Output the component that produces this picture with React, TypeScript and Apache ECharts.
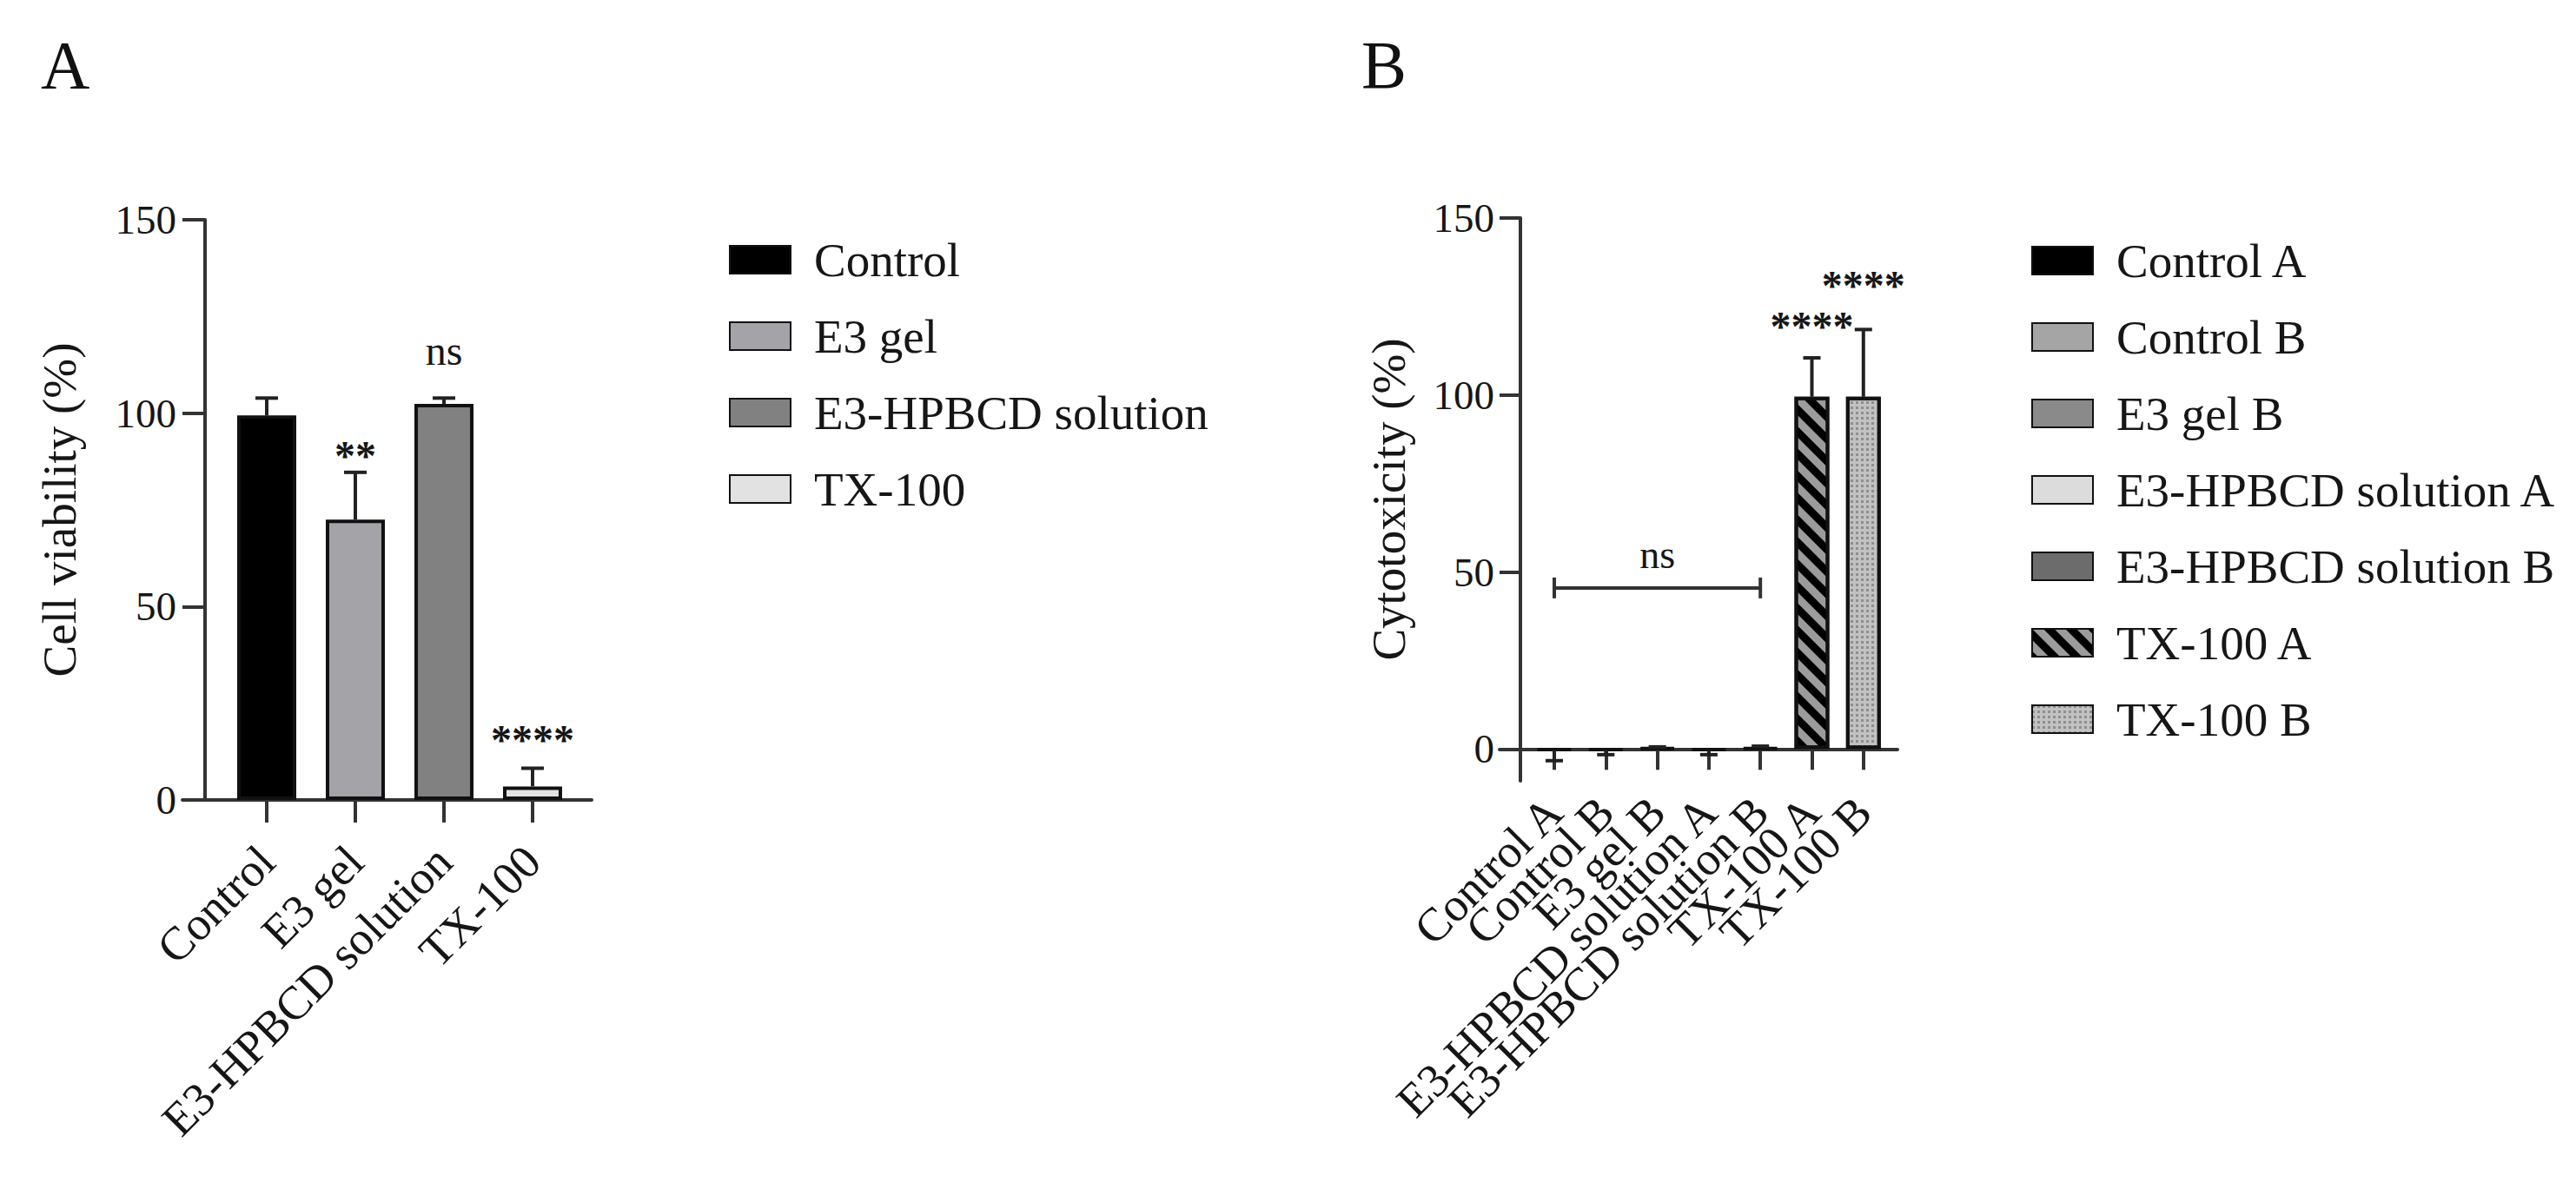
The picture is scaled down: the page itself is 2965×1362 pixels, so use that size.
import React, { useEffect, useRef } from "react";
import * as echarts from "echarts";

const FONT = '"Liberation Serif", "Times New Roman", Times, serif';
const AXIS_COLOR = "#333333";
const TEXT_COLOR = "#161616";

// ---------- Panel A data ----------
const catsA = ["Control", "E3 gel", "E3-HPBCD solution", "TX-100"];
const meanA = [99.4, 72.5, 102.4, 3.5];
const errA = [4.5, 12.2, 1.5, 4.7];
const colorsA = ["#000000", "#a3a3a8", "#818181", "#e2e2e2"];
const sigTextA = ["**", "ns", "****"];
const sigBoldA = [true, false, true];
const sigPosA = [
  [1, 89],
  [2, 116.3],
  [3, 15.5],
];
const yTicksA = [0, 50, 100, 150];

// ---------- Panel B data ----------
const catsB = [
  "Control A",
  "Control B",
  "E3 gel B",
  "E3-HPBCD solution A",
  "E3-HPBCD solution B",
  "TX-100 A",
  "TX-100 B",
];
const meanB = [-0.3, -0.3, 0.3, -0.3, 0.3, 99.5, 99.5];
const errB = [3.0, 1.3, 0.3, 1.3, 0.5, 11, 19];
const colorsB = ["#000000", "#a5a5a5", "#8a8a8a", "#dcdcdc", "#6c6c6c", "#9c9c9c", "#c2c2c2"];
const sigTextB = ["****", "****"];
const sigBoldB = [true, true];
const sigPosB = [
  [5, 119.5],
  [6, 131],
];
const nsBracketB = [[0, 4, 45.5]];
const nsTextB = [[2, 55]];
const yTicksB = [0, 50, 100, 150];

function errorBarRender(half: number) {
  return (params: any, api: any) => {
    const x = api.value(0);
    const v = api.value(1);
    const e = api.value(2);
    const dir = v >= 0 ? 1 : -1;
    const p0 = api.coord([x, v]);
    const p1 = api.coord([x, v + dir * e]);
    return {
      type: "group",
      children: [
        {
          type: "line",
          shape: { x1: p0[0], y1: p0[1], x2: p1[0], y2: p1[1] },
          style: { stroke: "#222", lineWidth: 4 },
        },
        {
          type: "line",
          shape: { x1: p1[0] - half, y1: p1[1], x2: p1[0] + half, y2: p1[1] },
          style: { stroke: "#222", lineWidth: 4 },
        },
      ],
    };
  };
}

function textRender(texts: string[], size: number, bold: boolean[]) {
  return (params: any, api: any) => {
    const p = api.coord([api.value(0), api.value(1)]);
    return {
      type: "text",
      x: p[0],
      y: p[1],
      style: {
        text: texts[params.dataIndex],
        fontSize: size,
        fontFamily: FONT,
        fontWeight: bold[params.dataIndex] ? "bold" : "normal",
        fill: TEXT_COLOR,
        align: "center",
        verticalAlign: "middle",
        textAlign: "center",
        textVerticalAlign: "middle",
      },
    };
  };
}

function axisLabelRender(texts: string[], size: number, margin: number) {
  return (params: any, api: any) => {
    const p = api.coord([api.value(0), api.value(1)]);
    return {
      type: "text",
      x: p[0],
      y: p[1] + margin,
      rotation: Math.PI / 4,
      style: {
        text: texts[params.dataIndex],
        fontSize: size,
        fontFamily: FONT,
        fill: TEXT_COLOR,
        align: "right",
        verticalAlign: "middle",
        textAlign: "right",
        textVerticalAlign: "middle",
      },
    };
  };
}

function bracketRender(params: any, api: any) {
  const x0 = api.value(0);
  const x1 = api.value(1);
  const y = api.value(2);
  const a = api.coord([x0, y]);
  const b = api.coord([x1, y]);
  const st = { stroke: "#333", lineWidth: 4 };
  return {
    type: "group",
    children: [
      { type: "line", shape: { x1: a[0], y1: a[1], x2: b[0], y2: b[1] }, style: st },
      { type: "line", shape: { x1: a[0], y1: a[1] - 12, x2: a[0], y2: a[1] + 12 }, style: st },
      { type: "line", shape: { x1: b[0], y1: b[1] - 12, x2: b[0], y2: b[1] + 12 }, style: st },
    ],
  };
}

export default function App() {
  const ref = useRef<HTMLDivElement>(null);

  useEffect(() => {
    if (!ref.current) return;
    const chart = echarts.init(ref.current, undefined, { renderer: "svg" });

    const axisLineStyle = { color: AXIS_COLOR, width: 4 };

    const barsA = catsA.map((c, i) => ({
      type: "bar",
      name: c,
      xAxisIndex: 0,
      yAxisIndex: 0,
      barWidth: 68,
      barGap: "-100%",
      data: [[i, meanA[i]]],
      itemStyle: { color: colorsA[i], borderColor: "#111", borderWidth: 4 },
      z: 3,
    }));

    const decalsB: any[] = [
      null,
      null,
      null,
      null,
      null,
      {
        symbol: "rect",
        symbolSize: 1,
        dashArrayX: [1, 0],
        dashArrayY: [9, 9],
        rotation: Math.PI / 4,
        color: "#000000",
      },
      {
        symbol: "rect",
        symbolSize: 1,
        dashArrayX: [3, 3],
        dashArrayY: [3, 3],
        rotation: 0,
        color: "#8e8e8e",
      },
    ];

    const barsB = catsB.map((c, i) => {
      const itemStyle: any = { color: colorsB[i], borderColor: "#111", borderWidth: 4 };
      if (decalsB[i]) itemStyle.decal = decalsB[i];
      return {
        type: "bar",
        name: c,
        xAxisIndex: 1,
        yAxisIndex: 1,
        barWidth: 40,
        barGap: "-100%",
        data: [[i, meanB[i]]],
        itemStyle,
        z: 3,
      };
    });

    const xAxisCommon = (cats: string[], tickLen: number, showLabels: boolean) => ({
      type: "value",
      splitLine: { show: false },
      axisLine: { show: true, onZero: true, lineStyle: axisLineStyle },
      axisTick: {
        show: true,
        inside: false,
        length: tickLen,
        customValues: cats.map((_, i) => i),
        lineStyle: axisLineStyle,
      },
      axisLabel: {
        show: showLabels,
        customValues: cats.map((_, i) => i),
        rotate: 45,
        margin: 62,
        hideOverlap: false,
        fontSize: 54,
        fontFamily: FONT,
        color: TEXT_COLOR,
        formatter: (v: number) => cats[Math.round(v)] ?? "",
      },
    });

    const legendText = {
      fontSize: 55,
      lineHeight: 56,
      fontFamily: FONT,
      color: TEXT_COLOR,
      padding: [0, 0, 0, 22],
    };

    const option: any = {
      animation: false,
      backgroundColor: "#ffffff",
      grid: [
        { left: 210, top: 253, width: 471, height: 668 },
        { left: 1726, top: 251, width: 458, height: 648 },
      ],
      xAxis: [
        { gridIndex: 0, min: -0.951, max: 3.667, ...xAxisCommon(catsA, 26, true) },
        { gridIndex: 1, min: -1.062, max: 6.661, ...xAxisCommon(catsB, 24, false) },
      ],
      yAxis: [
        {
          type: "value",
          gridIndex: 0,
          min: 0,
          max: 150,
          offset: -26,
          splitLine: { show: false },
          axisLine: { show: true, onZero: false, lineStyle: axisLineStyle },
          axisTick: { show: true, length: 26, customValues: yTicksA, lineStyle: axisLineStyle },
          axisLabel: {
            customValues: yTicksA,
            margin: 33,
            fontSize: 47,
            fontFamily: FONT,
            color: TEXT_COLOR,
          },
          name: "Cell viability (%)",
          nameLocation: "middle",
          nameGap: 140,
          nameTextStyle: { fontSize: 55, fontFamily: FONT, color: TEXT_COLOR },
        },
        {
          type: "value",
          gridIndex: 1,
          min: -9,
          max: 150,
          offset: -24,
          splitLine: { show: false },
          axisLine: { show: true, onZero: false, lineStyle: axisLineStyle },
          axisTick: { show: true, length: 24, customValues: yTicksB, lineStyle: axisLineStyle },
          axisLabel: {
            customValues: yTicksB,
            margin: 30,
            fontSize: 47,
            fontFamily: FONT,
            color: TEXT_COLOR,
          },
          name: "Cytotoxicity (%)",
          nameLocation: "middle",
          nameGap: 124,
          nameTextStyle: { fontSize: 55, fontFamily: FONT, color: TEXT_COLOR },
        },
      ],
      legend: [
        {
          data: catsA,
          orient: "vertical",
          left: 834,
          top: 266,
          itemWidth: 70,
          itemHeight: 32,
          itemGap: 32,
          icon: "rect",
          selectedMode: false,
          textStyle: legendText,
        },
        {
          data: catsB,
          orient: "vertical",
          left: 2333,
          top: 267,
          itemWidth: 70,
          itemHeight: 32,
          itemGap: 32,
          icon: "rect",
          selectedMode: false,
          textStyle: legendText,
        },
      ],
      graphic: [
        {
          type: "text",
          x: 47,
          y: 74,
          style: { text: "A", fontSize: 78, fontFamily: FONT, fill: "#111", textAlign: "left", textVerticalAlign: "middle", align: "left", verticalAlign: "middle" },
        },
        {
          type: "text",
          x: 1567,
          y: 74,
          style: { text: "B", fontSize: 78, fontFamily: FONT, fill: "#111", textAlign: "left", textVerticalAlign: "middle", align: "left", verticalAlign: "middle" },
        },
      ],
      series: [
        ...barsA,
        ...barsB,
        {
          type: "custom",
          name: "errA",
          xAxisIndex: 0,
          yAxisIndex: 0,
          data: meanA.map((m, i) => [i, m, errA[i]]),
          encode: { x: 0, y: 1 },
          renderItem: errorBarRender(13),
          z: 10,
          silent: true,
        },
        {
          type: "custom",
          name: "errB",
          xAxisIndex: 1,
          yAxisIndex: 1,
          data: meanB.map((m, i) => [i, m, errB[i]]),
          encode: { x: 0, y: 1 },
          renderItem: errorBarRender(10),
          z: 10,
          silent: true,
        },
        {
          type: "custom",
          name: "sigA",
          xAxisIndex: 0,
          yAxisIndex: 0,
          data: sigPosA,
          encode: { x: 0, y: 1 },
          renderItem: textRender(sigTextA, 48, sigBoldA),
          z: 10,
          silent: true,
        },
        {
          type: "custom",
          name: "sigB",
          xAxisIndex: 1,
          yAxisIndex: 1,
          data: sigPosB,
          encode: { x: 0, y: 1 },
          renderItem: textRender(sigTextB, 48, sigBoldB),
          z: 10,
          silent: true,
        },
        {
          type: "custom",
          name: "bracketB",
          xAxisIndex: 1,
          yAxisIndex: 1,
          data: nsBracketB,
          encode: { x: [0, 1], y: 2 },
          renderItem: bracketRender,
          z: 10,
          silent: true,
        },
        {
          type: "custom",
          name: "nsB",
          xAxisIndex: 1,
          yAxisIndex: 1,
          data: nsTextB,
          encode: { x: 0, y: 1 },
          renderItem: textRender(["ns"], 46, [false]),
          z: 10,
          silent: true,
        },
        {
          type: "custom",
          name: "xLabelsB",
          xAxisIndex: 1,
          yAxisIndex: 1,
          data: catsB.map((_, i) => [i, 0]),
          encode: { x: 0, y: 1 },
          renderItem: axisLabelRender(catsB, 54, 64),
          clip: false,
          z: 10,
          silent: true,
        },
      ],
    };

    chart.setOption(option);
    return () => chart.dispose();
  }, []);

  return (
    <div
      ref={ref}
      style={{ position: "fixed", left: 0, top: 0, width: 2965, height: 1362, background: "#fff" }}
    />
  );
}
